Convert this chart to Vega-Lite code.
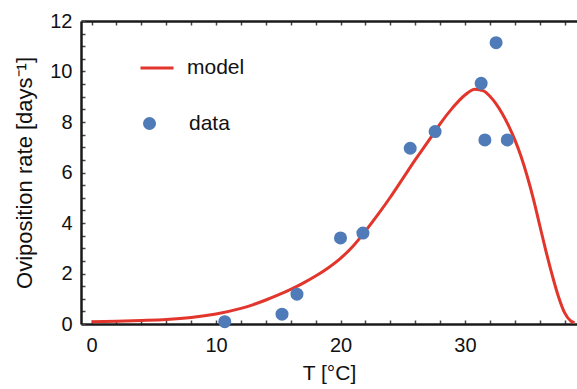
{
  "$schema": "https://vega.github.io/schema/vega-lite/v6.json",
  "autosize": "none",
  "width": 496,
  "height": 303,
  "padding": {"left": 81, "top": 21, "right": 0, "bottom": 65},
  "background": "white",
  "config": {
    "view": {"stroke": null},
    "font": "Liberation Sans",
    "axis": {
      "domainColor": "#1a1a1a",
      "domainWidth": 2.5,
      "tickColor": "#444444",
      "tickWidth": 1.5,
      "grid": false,
      "labelFont": "Liberation Sans",
      "labelFontSize": 20,
      "labelColor": "#111111",
      "titleFont": "Liberation Sans",
      "titleFontSize": 21,
      "titleFontWeight": "normal",
      "titleColor": "#111111"
    },
    "legend": {
      "labelFont": "Liberation Sans",
      "labelFontSize": 21,
      "labelColor": "#111111"
    }
  },
  "datasets": {
    "model": [
      {"T": 0, "rate": 0.09}, {"T": 2, "rate": 0.11}, {"T": 4, "rate": 0.14},
      {"T": 6, "rate": 0.18}, {"T": 8, "rate": 0.26}, {"T": 10, "rate": 0.4},
      {"T": 12, "rate": 0.62}, {"T": 13, "rate": 0.77}, {"T": 14, "rate": 0.95},
      {"T": 15, "rate": 1.15}, {"T": 16, "rate": 1.37}, {"T": 17, "rate": 1.62},
      {"T": 18, "rate": 1.9}, {"T": 19, "rate": 2.22}, {"T": 20, "rate": 2.6},
      {"T": 21, "rate": 3.08}, {"T": 22, "rate": 3.68}, {"T": 23, "rate": 4.33},
      {"T": 24, "rate": 5.02}, {"T": 25, "rate": 5.76}, {"T": 26, "rate": 6.5},
      {"T": 27, "rate": 7.2}, {"T": 28, "rate": 7.93}, {"T": 29, "rate": 8.56},
      {"T": 30, "rate": 9.07}, {"T": 30.8, "rate": 9.3}, {"T": 31.5, "rate": 9.23},
      {"T": 32, "rate": 9.02}, {"T": 32.5, "rate": 8.72}, {"T": 33, "rate": 8.33},
      {"T": 33.5, "rate": 7.86}, {"T": 34, "rate": 7.3}, {"T": 34.5, "rate": 6.64},
      {"T": 35, "rate": 5.85}, {"T": 35.5, "rate": 4.95}, {"T": 36, "rate": 3.92},
      {"T": 36.5, "rate": 2.9}, {"T": 37, "rate": 1.95}, {"T": 37.5, "rate": 1.1},
      {"T": 38, "rate": 0.45}, {"T": 38.5, "rate": 0.12}, {"T": 38.8, "rate": 0.05}
    ],
    "obs": [
      {"T": 10.7, "rate": 0.09}, {"T": 15.3, "rate": 0.39}, {"T": 16.5, "rate": 1.18},
      {"T": 20.0, "rate": 3.41}, {"T": 21.8, "rate": 3.6}, {"T": 25.6, "rate": 6.96},
      {"T": 27.6, "rate": 7.62}, {"T": 31.3, "rate": 9.53}, {"T": 31.6, "rate": 7.29},
      {"T": 32.5, "rate": 11.14}, {"T": 33.4, "rate": 7.29}
    ]
  },
  "resolve": {"axis": {"x": "independent", "y": "independent"}},
  "layer": [
    {
      "data": {"name": "model"},
      "mark": {"type": "line", "interpolate": "monotone", "strokeWidth": 3, "clip": true},
      "encoding": {
        "x": {
          "field": "T", "type": "quantitative",
          "scale": {"domain": [-0.85, 39], "nice": false, "zero": false},
          "axis": {
            "orient": "bottom",
            "values": [0, 2, 4, 6, 8, 10, 12, 14, 16, 18, 20, 22, 24, 26, 28, 30, 32, 34, 36, 38],
            "labelExpr": "datum.value % 10 === 0 ? datum.label : ''",
            "tickSize": -4,
            "labelPadding": 15,
            "title": "T [°C]",
            "titlePadding": 7
          }
        },
        "y": {
          "field": "rate", "type": "quantitative",
          "scale": {"domain": [0, 12], "nice": false},
          "axis": {
            "orient": "left",
            "values": [0, 0.5, 1, 1.5, 2, 2.5, 3, 3.5, 4, 4.5, 5, 5.5, 6, 6.5, 7, 7.5, 8, 8.5, 9, 9.5, 10, 10.5, 11, 11.5, 12],
            "labelExpr": "datum.value % 2 === 0 ? format(datum.value, 'd') : ''",
            "tickSize": -4,
            "labelPadding": 13,
            "title": "Oviposition rate [days⁻¹]",
            "titleFontSize": 22,
            "titlePadding": 13
          }
        },
        "stroke": {
          "datum": "model", "type": "nominal",
          "scale": {"domain": ["model"], "range": ["#e2352b"]},
          "legend": {
            "orient": "none", "legendX": 58, "legendY": 29,
            "title": null, "padding": 0,
            "symbolType": "stroke", "symbolSize": 1089, "symbolStrokeWidth": 3,
            "labelOffset": 12
          }
        }
      }
    },
    {
      "data": {"name": "obs"},
      "mark": {"type": "point", "filled": true, "size": 170, "opacity": 1},
      "encoding": {
        "x": {
          "field": "T", "type": "quantitative",
          "axis": {
            "orient": "top",
            "values": [0, 2, 4, 6, 8, 10, 12, 14, 16, 18, 20, 22, 24, 26, 28, 30, 32, 34, 36, 38],
            "labels": false, "tickSize": -4, "title": null
          }
        },
        "y": {
          "field": "rate", "type": "quantitative",
          "axis": null
        },
        "fill": {
          "datum": "data", "type": "nominal",
          "scale": {"domain": ["data"], "range": ["#4f7cb8"]},
          "legend": {
            "orient": "none", "legendX": 58, "legendY": 92,
            "title": null, "padding": 0,
            "symbolType": "circle", "symbolSize": 170, "symbolStrokeWidth": 0,
            "labelOffset": 29
          }
        }
      }
    }
  ]
}
